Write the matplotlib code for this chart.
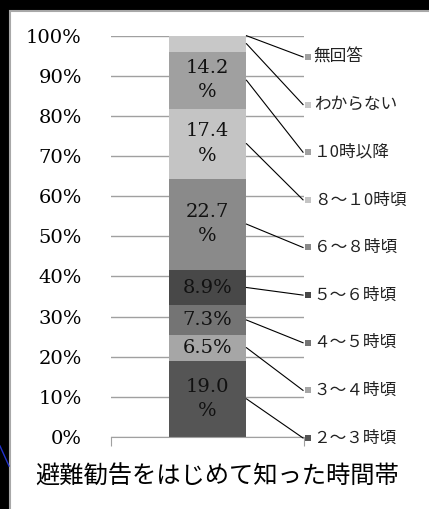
import matplotlib
matplotlib.use("Agg")
import matplotlib.pyplot as plt
from matplotlib.patches import Rectangle
from matplotlib.lines import Line2D
import numpy as np

# time bands, bottom of the stack first
categories = ["２～３時頃", "３～４時頃", "４～５時頃", "５～６時頃", "６～８時頃",
              "８～１0時頃", "１0時以降", "わからない", "無回答"]
values = [19.0, 6.5, 7.3, 8.9, 22.7, 17.4, 14.2, 4.0, 0.0]
colors = ["#555555", "#a6a6a6", "#747474", "#484848", "#8a8a8a",
          "#c4c4c4", "#a0a0a0", "#c8c8c8", "#a0a0a0"]
yticks = list(range(0, 101, 10))
title = "避難勧告をはじめて知った時間帯"

jp = ["Noto Sans CJK JP", "DejaVu Sans"]
W, H = 429, 509

fig = plt.figure(figsize=(W / 100, H / 100), dpi=100, facecolor="black")
panel = Rectangle((10 / W, -0.05), 1.1, 1 - 11 / H + 0.05, transform=fig.transFigure,
                  facecolor="white", edgecolor="#a8a8a8", lw=1.5, zorder=-5)
fig.patches.append(panel)
fig.add_artist(Line2D([0, 9 / W], [1 - 446 / H, 1 - 466 / H], color="#2233cc", lw=1))

ax = fig.add_axes([111 / W, 72 / H, 193 / W, 401.3 / H])
ax.set_xlim(-0.5, 0.5)
ax.set_ylim(0, 100)
ax.set_facecolor("none")

bw = 0.404
bottoms = np.concatenate([[0], np.cumsum(values)[:-1]])
for v, b, c in zip(values, bottoms, colors):
    ax.bar(0, v, bottom=b, width=bw, color=c, zorder=2)
    if v >= 5:
        lab = f"{v:.1f}\n%" if v >= 10 else f"{v:.1f}%"
        ax.text(0, b + v / 2, lab, ha="center", va="center", fontsize=14,
                family="DejaVu Serif", color="#111111", linespacing=1.45, zorder=3)

ax.set_yticks(yticks)
ax.set_yticklabels([f"{t}%" for t in yticks], family="DejaVu Serif", fontsize=14)
ax.yaxis.grid(True, color="#a0a0a0", lw=1)
ax.set_axisbelow(True)
ax.tick_params(axis="y", length=0, pad=21)
ax.set_xticks([-0.5, 0.5])
ax.set_xticklabels(["", ""])
ax.tick_params(axis="x", length=6.5, color="#a0a0a0", direction="out")
for s in ["left", "top", "right"]:
    ax.spines[s].set_visible(False)
ax.spines["bottom"].set_color("#a0a0a0")

# legend on the right with leader lines to each segment
leg_y = np.linspace(0.947, -0.0025, len(categories))
bar_right = 0.5 + bw / 2
for i, k in enumerate(range(len(categories) - 1, -1, -1)):
    yc = (bottoms[k] + values[k] / 2) / 100
    ax.plot([bar_right, 0.995], [yc, leg_y[i]], color="black", lw=0.8,
            transform=ax.transAxes, clip_on=False, zorder=4)
    ax.plot([1.022], [leg_y[i]], marker="s", ms=5, color=colors[k], mew=0,
            transform=ax.transAxes, clip_on=False, zorder=4)
    ax.text(1.05, leg_y[i], categories[k], transform=ax.transAxes, ha="left",
            va="center", fontsize=12, family=jp, color="#222222")

fig.text(0.506, 1 - 477 / H, title, ha="center", va="center", fontsize=17.5,
         family=jp, color="black")

fig.savefig("out.png", dpi=100, facecolor=fig.get_facecolor())
